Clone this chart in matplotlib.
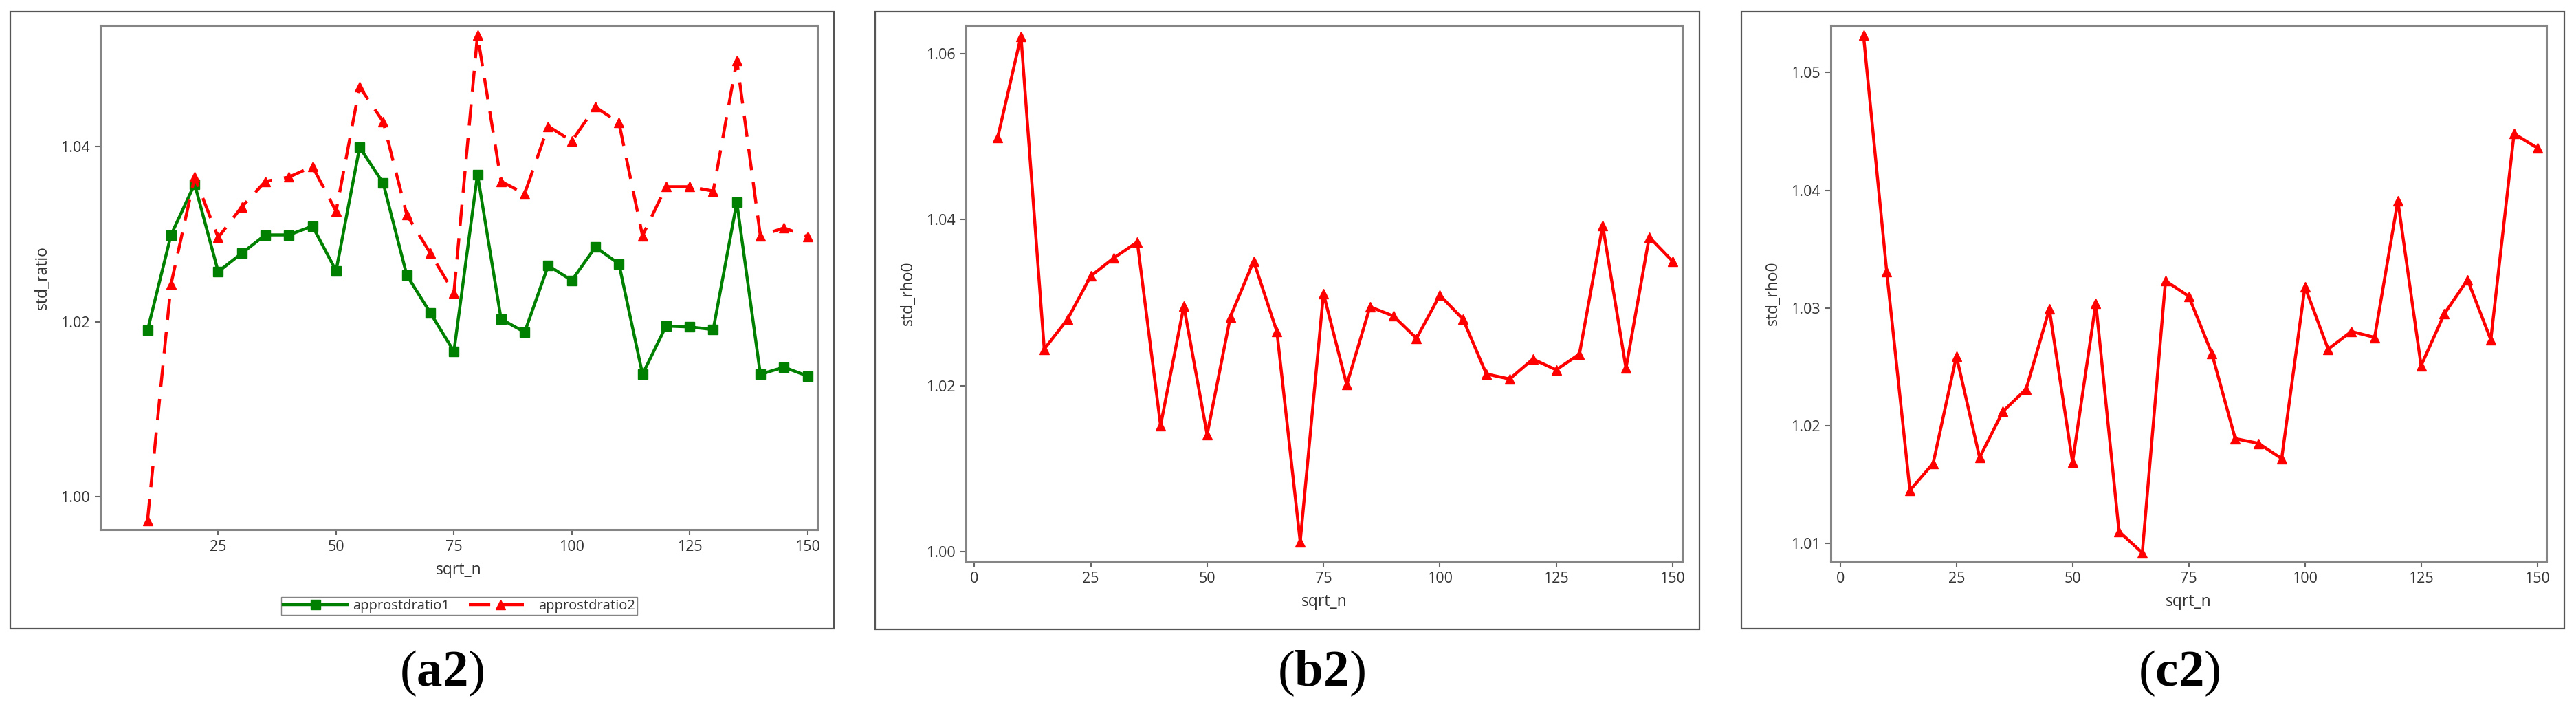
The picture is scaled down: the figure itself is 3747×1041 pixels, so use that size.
import matplotlib
matplotlib.use("Agg")
import matplotlib.pyplot as plt
from matplotlib.patches import Rectangle
from matplotlib.lines import Line2D

plt.rcParams['font.family'] = ['Open Sans', 'DejaVu Sans']
plt.rcParams['mathtext.fontset'] = 'custom'
plt.rcParams['mathtext.rm'] = 'Liberation Serif'
plt.rcParams['mathtext.bf'] = 'Liberation Serif:bold'

# (a2) sqrt_n = 10..150
sqrt_n_a = [10, 15, 20, 25, 30, 35, 40, 45, 50, 55, 60, 65, 70, 75, 80,
            85, 90, 95, 100, 105, 110, 115, 120, 125, 130, 135, 140, 145, 150]
approstdratio1 = [1.0190, 1.0299, 1.0357, 1.0257, 1.0278, 1.0299, 1.0299, 1.0309,
                  1.0258, 1.0399, 1.0358, 1.0253, 1.0210, 1.0166, 1.0368, 1.0203,
                  1.0188, 1.0264, 1.0247, 1.0285, 1.0266, 1.0140, 1.0195, 1.0194,
                  1.0191, 1.0336, 1.0140, 1.0148, 1.0138]
approstdratio2 = [0.9973, 1.0243, 1.0365, 1.0296, 1.0331, 1.0360, 1.0365, 1.0377,
                  1.0326, 1.0468, 1.0428, 1.0322, 1.0278, 1.0233, 1.0527, 1.0360,
                  1.0346, 1.0423, 1.0406, 1.0445, 1.0427, 1.0298, 1.0354, 1.0354,
                  1.0349, 1.0498, 1.0298, 1.0307, 1.0297]

# (b2), (c2) sqrt_n = 5..150
sqrt_n_bc = [5, 10, 15, 20, 25, 30, 35, 40, 45, 50, 55, 60, 65, 70, 75,
             80, 85, 90, 95, 100, 105, 110, 115, 120, 125, 130, 135, 140, 145, 150]
std_rho0_b = [1.0499, 1.0621, 1.0244, 1.0280, 1.0332, 1.0354, 1.0373, 1.0152,
              1.0296, 1.0141, 1.0283, 1.0350, 1.0265, 1.0012, 1.0311, 1.0201,
              1.0295, 1.0284, 1.0257, 1.0309, 1.0280, 1.0214, 1.0208, 1.0232,
              1.0219, 1.0238, 1.0393, 1.0221, 1.0379, 1.0350]
std_rho0_c = [1.0532, 1.0331, 1.0145, 1.0168, 1.0259, 1.0173, 1.0212, 1.0231,
              1.0299, 1.0169, 1.0304, 1.0110, 1.0092, 1.0323, 1.0310, 1.0261,
              1.0189, 1.0185, 1.0172, 1.0318, 1.0265, 1.0280, 1.0275, 1.0391,
              1.0251, 1.0295, 1.0324, 1.0273, 1.0448, 1.0436]

W, H = 3748, 1041
fig = plt.figure(figsize=(W / 100, H / 100), dpi=100)
fig.patch.set_facecolor('white')

TXT = '#333333'
SPINE = '#858585'


def px_axes(l, t, r, b):
    return fig.add_axes([l / W, 1 - b / H, (r - l) / W, (b - t) / H])


def frame(l, t, r, b):
    fig.patches.append(Rectangle((l / W, 1 - b / H), (r - l) / W, (b - t) / H,
                                 transform=fig.transFigure, fill=False,
                                 edgecolor='#555555', lw=1.6))


def style(ax, xlabel, ylabel, xlim, ylim, yticks, yfmt):
    ax.set_xlim(*xlim)
    ax.set_ylim(*ylim)
    ax.set_xticks([0, 25, 50, 75, 100, 125, 150])
    ax.set_yticks(yticks)
    ax.set_yticklabels([yfmt.format(v) for v in yticks])
    for s in ax.spines.values():
        s.set_color(SPINE)
        s.set_linewidth(2.2)
    ax.tick_params(colors='#666666', labelcolor=TXT, labelsize=15.5,
                   length=6, width=1.5, pad=5)
    ax.set_xlabel(xlabel, fontsize=16.5, color=TXT, labelpad=8)
    ax.set_ylabel(ylabel, fontsize=16.5, color=TXT, labelpad=10)


# panel (a2)
frame(15, 17, 1213, 914)
ax1 = px_axes(146, 37, 1189, 770)
ax1.plot(sqrt_n_a, approstdratio1, color='#008000', lw=3.2, marker='s', ms=10,
         label='approstdratio1')
ax1.plot(sqrt_n_a, approstdratio2, color='red', lw=3.2, ls=(0, (7, 4)), marker='^',
         ms=10, label='approstdratio2')
style(ax1, 'sqrt_n', 'std_ratio', (8.0, 152.1), (0.99627, 1.0538),
      [1.00, 1.02, 1.04], '{:.2f}')
ax1.set_xticks([25, 50, 75, 100, 125, 150])
handles = [Line2D([], [], color='#008000', lw=3.2, marker='s', ms=10),
           Line2D([], [], color='red', lw=3.2, ls=(0, (7, 4)), marker='^', ms=10)]
fig.legend(handles, ['approstdratio1', 'approstdratio2'], ncol=2,
           loc='center', bbox_to_anchor=(668 / W, 1 - 881 / H),
           fontsize=14.5, frameon=True, fancybox=False, edgecolor='#666666',
           handlelength=4.6, handletextpad=0.4, columnspacing=1.4,
           borderpad=0.15, labelcolor=TXT)

# panel (b2)
frame(1273, 17, 2472, 915)
ax2 = px_axes(1405, 37, 2447, 816)
ax2.plot(sqrt_n_bc, std_rho0_b, color='red', lw=3.2, marker='^', ms=10)
style(ax2, 'sqrt_n', 'std_rho0', (-1.83, 152.1), (0.99884, 1.0634),
      [1.00, 1.02, 1.04, 1.06], '{:.2f}')

# panel (c2)
frame(2533, 17, 3730, 914)
ax3 = px_axes(2663, 37, 3704, 816)
ax3.plot(sqrt_n_bc, std_rho0_c, color='red', lw=3.2, marker='^', ms=10)
style(ax3, 'sqrt_n', 'std_rho0', (-2.03, 151.98), (1.00848, 1.0540),
      [1.01, 1.02, 1.03, 1.04, 1.05], '{:.2f}')

# panel captions
for cx, lab in [(643, 'a2'), (1922, 'b2'), (3170, 'c2')]:
    fig.text(cx / W, 1 - 978 / H, r'$(\mathbf{' + lab + '})$', fontsize=54,
             ha='center', va='center', color='black')

fig.savefig('out.png', dpi=100, facecolor='white')
